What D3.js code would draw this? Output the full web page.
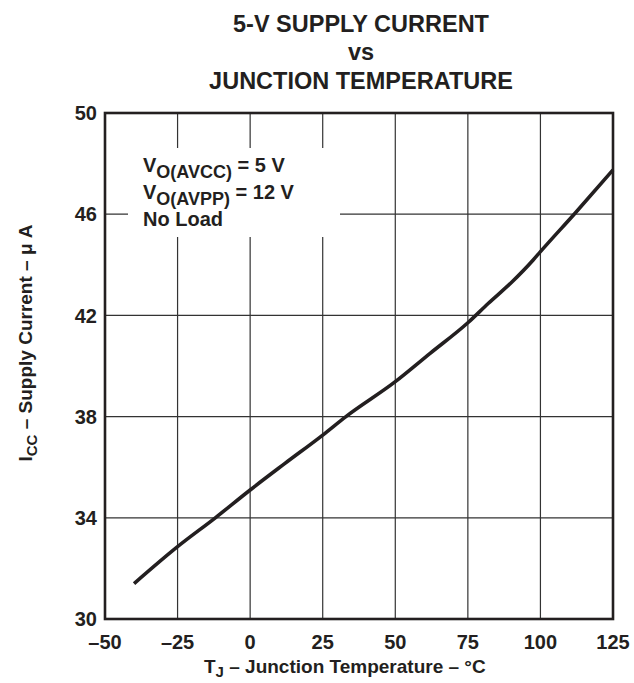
<!DOCTYPE html>
<html>
<head>
<meta charset="utf-8">
<script src="https://cdn.jsdelivr.net/npm/d3@7"></script>
<style>
  body { margin: 0; background: #fff; }
  text { font-family: "Liberation Sans", Arial, sans-serif; font-weight: bold; fill: #231f20; }
</style>
</head>
<body>
<svg></svg>
<script>
// data
const temps = [-40, -25, -12, 0, 12, 25, 33, 50, 62, 75, 82, 90, 97.5, 100, 112, 125]
const icc = [31.4, 32.86, 34.0, 35.1, 36.15, 37.27, 38.0, 39.38, 40.5, 41.71, 42.47, 43.3, 44.19, 44.52, 46.05, 47.75]
const xTicks = [-50, -25, 0, 25, 50, 75, 100, 125]
const yTicks = [30, 34, 38, 42, 46, 50]
const titleLines = ['5-V SUPPLY CURRENT', 'vs', 'JUNCTION TEMPERATURE']
const legendLines = [
  { main: 'V', sub: 'O(AVCC)', rest: ' = 5 V' },
  { main: 'V', sub: 'O(AVPP)', rest: ' = 12 V' },
  { main: 'No Load', sub: '', rest: '' }
]

const pd = { top: 113, left: 105, right: 21, bottom: 64 }
const width = 508
const height = 506
const ink = '#231f20'

const svg = d3.select('svg')
  .attr('width', 634)
  .attr('height', 683)

const x = d3.scaleLinear().domain([-50, 125]).range([0, width])
const y = d3.scaleLinear().domain([30, 50]).range([height, 0])

const g = svg.append('g')
  .attr('transform', `translate(${pd.left}, ${pd.top})`)

// grid
g.append('g')
  .selectAll('line')
  .data(xTicks.slice(1, -1))
  .enter()
  .append('line')
  .attr('x1', d => x(d))
  .attr('x2', d => x(d))
  .attr('y1', 0)
  .attr('y2', height)
  .attr('stroke', '#333')
  .attr('stroke-width', 1.2)

g.append('g')
  .selectAll('line')
  .data(yTicks.slice(1, -1))
  .enter()
  .append('line')
  .attr('x1', 0)
  .attr('x2', width)
  .attr('y1', d => y(d))
  .attr('y2', d => y(d))
  .attr('stroke', '#333')
  .attr('stroke-width', 1.2)

// legend box hides grid behind it
g.append('rect')
  .attr('x', 23)
  .attr('y', 35)
  .attr('width', 212)
  .attr('height', 89)
  .attr('fill', '#fff')

const lg = g.append('text')
  .style('font-size', '20px')
legendLines.forEach((l, i) => {
  lg.append('tspan')
    .attr('x', 38)
    .attr('y', 59 + i * 27)
    .text(l.main)
  if (l.sub) {
    lg.append('tspan')
      .attr('dy', 6)
      .style('font-size', '18px')
      .text(l.sub)
    lg.append('tspan')
      .attr('dy', -6)
      .text(l.rest)
  }
})

// curve
g.append('path')
  .datum(temps.map((t, i) => [t, icc[i]]))
  .attr('d', d3.line()
    .x(d => x(d[0]))
    .y(d => y(d[1]))
    .curve(d3.curveMonotoneX))
  .attr('fill', 'none')
  .attr('stroke', ink)
  .attr('stroke-width', 3.6)
  .attr('stroke-linejoin', 'round')

// frame
g.append('rect')
  .attr('width', width)
  .attr('height', height)
  .attr('fill', 'none')
  .attr('stroke', ink)
  .attr('stroke-width', 2.6)

// tick labels
g.append('g')
  .selectAll('text')
  .data(yTicks)
  .enter()
  .append('text')
  .attr('x', -8)
  .attr('y', d => y(d))
  .attr('dy', '0.36em')
  .attr('text-anchor', 'end')
  .style('font-size', '20px')
  .text(d => d)

g.append('g')
  .selectAll('text')
  .data(xTicks)
  .enter()
  .append('text')
  .attr('x', d => x(d))
  .attr('y', height + 30)
  .attr('text-anchor', 'middle')
  .style('font-size', '20px')
  .text(d => d < 0 ? '\u2013' + Math.abs(d) : d)

// titles
svg.append('g')
  .selectAll('text')
  .data(titleLines)
  .enter()
  .append('text')
  .attr('x', 361)
  .attr('y', (d, i) => [31.5, 60, 89][i])
  .attr('text-anchor', 'middle')
  .style('font-size', '23.5px')
  .text(d => d)

const xt = svg.append('text')
  .attr('x', 204)
  .attr('y', 673)
  .style('font-size', '19px')
xt.append('tspan').text('T')
xt.append('tspan').attr('dy', 4).style('font-size', '15px').text('J')
xt.append('tspan').attr('dy', -4).text(' \u2013 Junction Temperature \u2013 \u00b0C')

const yt = svg.append('text')
  .attr('transform', 'translate(32, 343) rotate(-90)')
  .attr('text-anchor', 'middle')
  .style('font-size', '19px')
yt.append('tspan').text('I')
yt.append('tspan').attr('dy', 5).style('font-size', '15px').text('CC')
yt.append('tspan').attr('dy', -5).text(' \u2013 Supply Current \u2013 \u03bc A')
</script>
</body>
</html>
